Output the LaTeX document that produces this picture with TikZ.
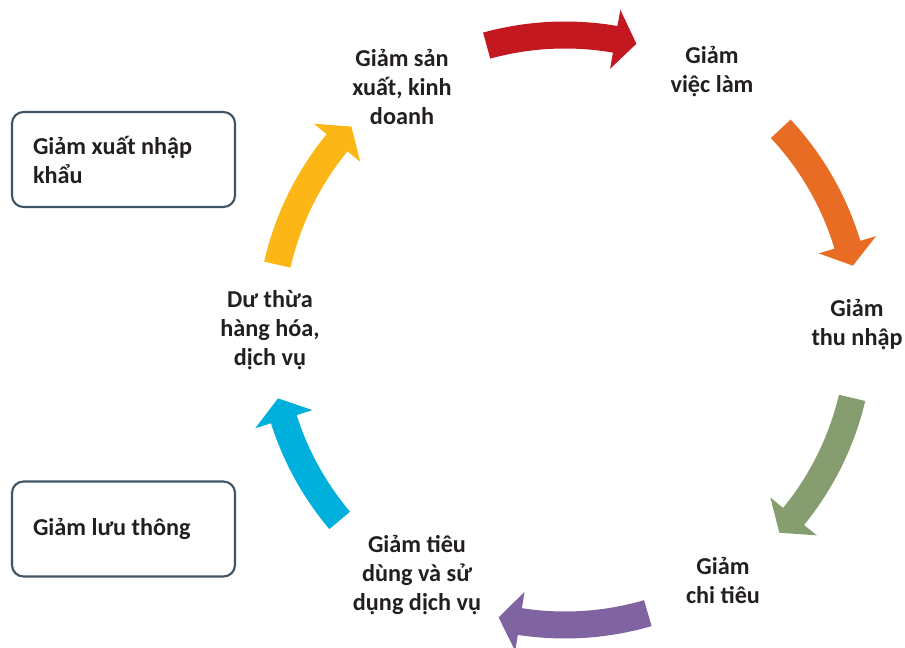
\documentclass[tikz,border=0pt]{standalone}
\usepackage{fontspec}
\setmainfont{Carlito}

\definecolor{txtgray}{RGB}{35,31,32}
\definecolor{boxblue}{RGB}{64,84,100}
\definecolor{redarr}{RGB}{196,24,32}
\definecolor{orangearr}{RGB}{232,108,35}
\definecolor{greenarr}{RGB}{133,157,111}
\definecolor{purplearr}{RGB}{128,100,162}
\definecolor{cyanarr}{RGB}{0,176,220}
\definecolor{yellowarr}{RGB}{252,183,22}

\begin{document}
\begin{tikzpicture}[x=0.02cm, y=0.02cm,
    lbl/.style={font=\bfseries\fontsize{13.8}{16.5}\selectfont, text=txtgray, align=flush center},
    sidebox/.style={draw=boxblue, line width=1.2pt, rounded corners=6.5pt,
      minimum width=4.46cm, minimum height=1.9cm, text width=3.62cm, inner xsep=0.42cm,
      align=flush left, font=\bfseries\fontsize{13.8}{16.5}\selectfont, text=txtgray}]

  \useasboundingbox (-565,-318) rectangle (340,330);

  % --- etichette del ciclo ---
  \node[lbl] (sanxuat)  at (-163, 243) {Giảm sản\\xuất, kinh\\doanh};
  \node[lbl] (vieclam)  at (147, 258)  {Giảm\\việc làm};
  \node[lbl] (thunhap)  at (292, 5)    {Giảm\\thu nhập};
  \node[lbl] (chitieu)  at (158, -250) {Giảm\\chi tiêu};
  \node[lbl] (tieudung) at (-148, -245) {Giảm tiêu\\dùng và sử\\dụng dịch vụ};
  \node[lbl] (duthua)   at (-295, 0)   {Dư thừa\\hàng hóa,\\dịch vụ};

  % --- riquadri a sinistra ---
  \node[sidebox] (xnk)      at (-441.5, 170.5) {Giảm xuất nhập\\khẩu};
  \node[sidebox] (luuthong) at (-441.5, -199)  {Giảm lưu thông};

  % --- frecce curve (raggio 295) ---
  \fill[redarr] (105.4:281.5) arc[start angle=105.4, end angle=80.2, radius=281.5]
    -- (80.2:265) -- (76:295) -- (80.2:325) -- (80.2:308.5)
    arc[start angle=80.2, end angle=105.4, radius=308.5] -- cycle;
  \fill[orangearr] (43:281.5) arc[start angle=43, end angle=16.8, radius=281.5]
    -- (16.8:265) -- (12.6:295) -- (16.8:325) -- (16.8:308.5)
    arc[start angle=16.8, end angle=43, radius=308.5] -- cycle;
  \fill[greenarr] (-13.3:281.5) arc[start angle=-13.3, end angle=-39.2, radius=281.5]
    -- (-39.2:265) -- (-43.4:295) -- (-39.2:325) -- (-39.2:308.5)
    arc[start angle=-39.2, end angle=-13.3, radius=308.5] -- cycle;
  \fill[purplearr] (-73.7:281.5) arc[start angle=-73.7, end angle=-98.8, radius=281.5]
    -- (-98.8:265) -- (-103:295) -- (-98.8:325) -- (-98.8:308.5)
    arc[start angle=-98.8, end angle=-73.7, radius=308.5] -- cycle;
  \fill[cyanarr] (-139.8:281.5) arc[start angle=-139.8, end angle=-162.4, radius=281.5]
    -- (-162.4:265) -- (-166.6:295) -- (-162.4:325) -- (-162.4:308.5)
    arc[start angle=-162.4, end angle=-139.8, radius=308.5] -- cycle;
  \fill[yellowarr] (167.2:281.5) arc[start angle=167.2, end angle=140.6, radius=281.5]
    -- (140.6:265) -- (136.4:295) -- (140.6:325) -- (140.6:308.5)
    arc[start angle=140.6, end angle=167.2, radius=308.5] -- cycle;
\end{tikzpicture}
\end{document}
